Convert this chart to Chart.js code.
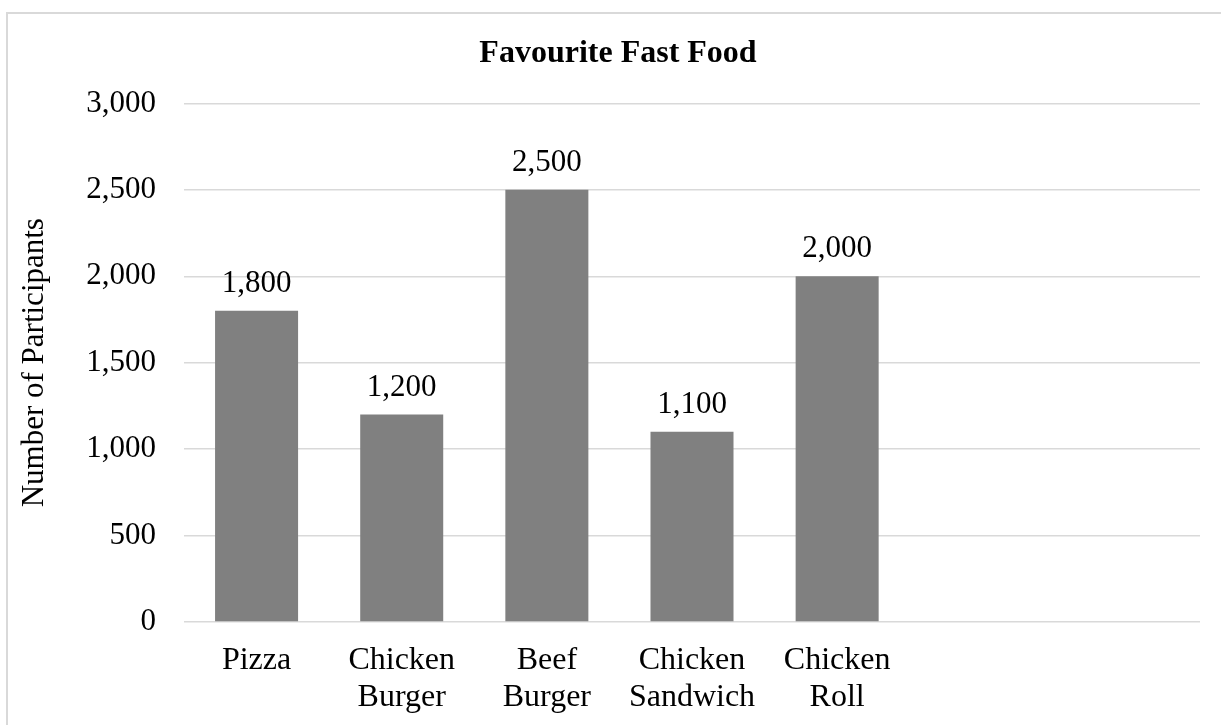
<!DOCTYPE html>
<html>
<head>
<meta charset="utf-8">
<script src="https://cdn.jsdelivr.net/npm/chart.js@4/dist/chart.umd.min.js"></script>
<style>
  html, body { margin: 0; padding: 0; background: #fff; overflow: hidden; }
  #frame { position: absolute; left: 6px; top: 12px; width: 1400px; height: 900px; border: 2px solid #d9d9d9; box-sizing: border-box; }
  #wrap { position: absolute; left: 0; top: 0; width: 1221px; height: 725px; }
</style>
</head>
<body>
<div id="frame"></div>
<div id="wrap"><canvas id="c" width="1221" height="725"></canvas></div>
<script>
const chartTitle = 'Favourite Fast Food';
const yAxisTitle = 'Number of Participants';
const categories = [['Pizza'], ['Chicken', 'Burger'], ['Beef', 'Burger'], ['Chicken', 'Sandwich'], ['Chicken', 'Roll'], '', ''];
const participants = [1800, 1200, 2500, 1100, 2000, null, null];
const yTicks = [0, 500, 1000, 1500, 2000, 2500, 3000];

const FONT = "'Liberation Serif', 'Times New Roman', serif";
const fmt = v => Number(v).toLocaleString('en-US');

const dataLabels = {
  id: 'dataLabels',
  afterDatasetsDraw(chart) {
    const ctx = chart.ctx;
    const meta = chart.getDatasetMeta(0);
    ctx.save();
    ctx.font = "31px " + FONT;
    ctx.fillStyle = '#000';
    ctx.textAlign = 'center';
    ctx.textBaseline = 'middle';
    meta.data.forEach((bar, i) => {
      const v = participants[i];
      if (v === null || v === undefined) return;
      ctx.fillText(fmt(v), bar.x, bar.y - 27);
    });
    ctx.restore();
  }
};

new Chart(document.getElementById('c'), {
  type: 'bar',
  data: {
    labels: categories,
    datasets: [{
      data: participants,
      backgroundColor: '#808080',
      borderWidth: 0,
      barPercentage: 0.572,
      categoryPercentage: 1.0
    }]
  },
  options: {
    responsive: false,
    animation: false,
    devicePixelRatio: 1,
    layout: { padding: { left: 36, right: 21, top: 0, bottom: 0 } },
    plugins: {
      legend: { display: false },
      tooltip: { enabled: false },
      title: {
        display: true,
        text: chartTitle,
        color: '#000',
        font: { family: FONT, size: 32, weight: 'bold', lineHeight: 1.2 },
        padding: { top: 35, bottom: 30 }
      }
    },
    scales: {
      x: {
        afterFit(scale) { scale.height = 103; },
        grid: { display: false, drawTicks: false },
        border: { display: false },
        ticks: {
          color: '#000',
          font: { family: FONT, size: 32, lineHeight: 1.15 },
          padding: 20,
          maxRotation: 0,
          autoSkip: false
        }
      },
      y: {
        min: 0,
        max: 3000,
        afterBuildTicks(scale) { scale.ticks = yTicks.map(v => ({ value: v })); },
        afterFit(scale) { scale.width = 148; },
        grid: { color: '#d9d9d9', lineWidth: 1.5, drawTicks: false },
        border: { display: false },
        ticks: {
          color: '#000',
          font: { family: FONT, size: 31 },
          padding: 28,
          callback: v => fmt(v)
        },
        title: {
          display: true,
          text: yAxisTitle,
          color: '#000',
          font: { family: FONT, size: 31, lineHeight: 1.2 },
          padding: { top: -19.6, bottom: 0 }
        }
      }
    }
  },
  plugins: [dataLabels]
});
</script>
</body>
</html>
